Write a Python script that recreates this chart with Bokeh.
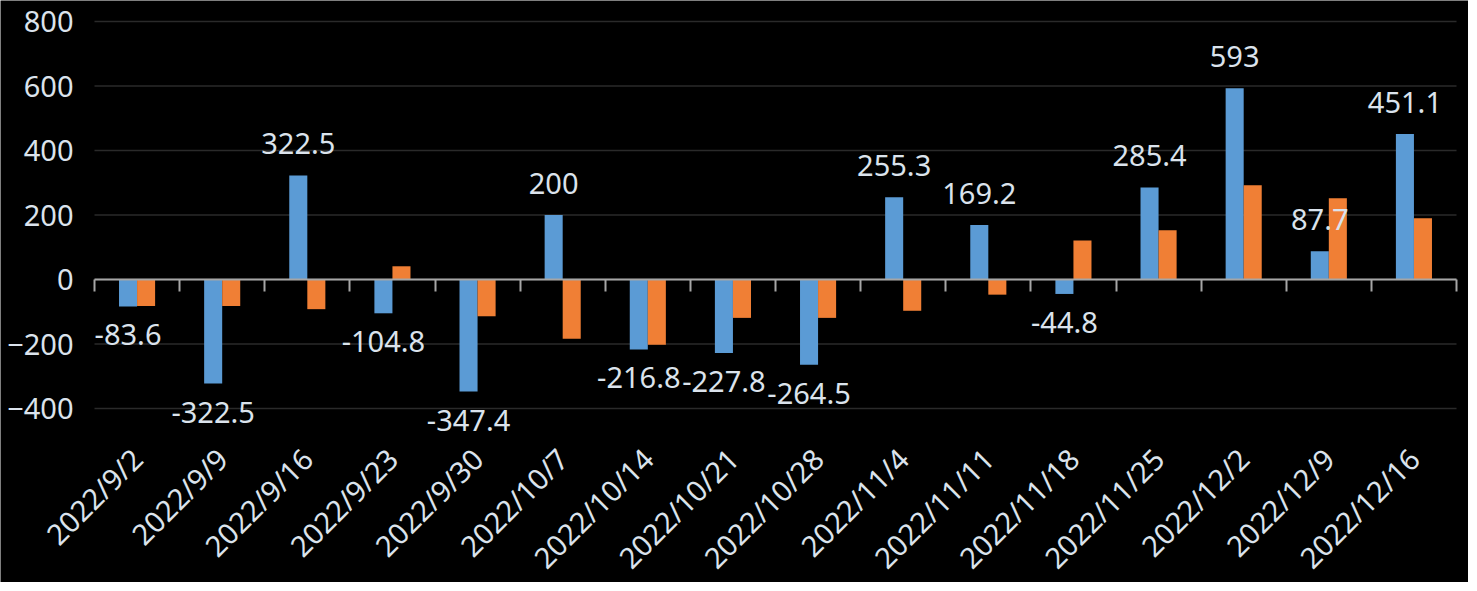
import math
from bokeh.plotting import figure
from bokeh.models import ColumnDataSource, Range1d, LinearAxis, FixedTicker, LabelSet
from bokeh.transform import dodge
from bokeh.core.properties import value
from bokeh.embed import file_html
from bokeh.resources import INLINE

dates = ["2022/9/2", "2022/9/9", "2022/9/16", "2022/9/23", "2022/9/30", "2022/10/7",
         "2022/10/14", "2022/10/21", "2022/10/28", "2022/11/4", "2022/11/11", "2022/11/18",
         "2022/11/25", "2022/12/2", "2022/12/9", "2022/12/16"]
blue = [-83.6, -322.5, 322.5, -104.8, -347.4, 200, -216.8, -227.8, -264.5,
        255.3, 169.2, -44.8, 285.4, 593, 87.7, 451.1]
orange = [-82, -82, -92, 41, -114, -184, -202, -119, -119,
          -97, -47, 121, 153, 292, 252, 190]
y_ticks = [-400, -200, 0, 200, 400, 600, 800]

FONT = "Noto Sans"
TXT = "#dbe3ec"
FS = "29px"
FS_CAT = "29px"

n = len(dates)
xc = [i + 0.5 for i in range(n)]  # category centres on the x scale

# layout (pixels): value area 1362 x 387, surrounded by room for labels;
# the frame covers the whole figure so that no label is clipped
PLOT_W, PLOT_H = 1362, 387
LEFT, RIGHT, TOP, BOTTOM = 94, 12, 21, 174
ppx = PLOT_W / n
ppu = PLOT_H / (y_ticks[-1] - y_ticks[0])
x_range = Range1d(-LEFT / ppx, n + RIGHT / ppx)
y_range = Range1d(y_ticks[0] - BOTTOM / ppu, y_ticks[-1] + TOP / ppu)

src = ColumnDataSource(dict(x=xc, b=blue, o=orange))
pos = ColumnDataSource(dict(x=[x for x, v in zip(xc, blue) if v >= 0],
                            v=[v for v in blue if v >= 0],
                            t=[f"{v:g}" for v in blue if v >= 0]))
neg = ColumnDataSource(dict(x=[x for x, v in zip(xc, blue) if v < 0],
                            v=[v for v in blue if v < 0],
                            t=[f"{v:g}" for v in blue if v < 0]))
cats = ColumnDataSource(dict(x=xc, y=[y_ticks[0]] * n, t=dates))
grid = ColumnDataSource(dict(y=y_ticks, x0=[0] * len(y_ticks), x1=[n] * len(y_ticks)))

p = figure(x_range=x_range, y_range=y_range,
           frame_width=LEFT + PLOT_W + RIGHT, frame_height=TOP + PLOT_H + BOTTOM,
           min_border=0, output_backend="svg", toolbar_location=None,
           x_axis_location=None, y_axis_location=None,
           background_fill_color="black", border_fill_color="black")
p.outline_line_color = None
p.grid.visible = False

# horizontal gridlines across the value area only
p.segment(x0="x0", x1="x1", y0="y", y1="y", source=grid,
          line_color="#2a2a2a", line_width=1.5)

# value axis (labels only) at the left edge of the value area
yax = LinearAxis(fixed_location=0, ticker=FixedTicker(ticks=y_ticks),
                 axis_line_color=None, major_tick_line_color=None, minor_tick_line_color=None,
                 major_tick_in=0, major_tick_out=0, major_label_standoff=21,
                 major_label_text_font=FONT, major_label_text_font_size=FS,
                 major_label_text_color=TXT)
p.add_layout(yax, "left")

# zero-line axis with ticks at category boundaries
bnd = list(range(n + 1))
zax = LinearAxis(fixed_location=0, bounds=(0, n),
                 ticker=FixedTicker(ticks=bnd),
                 major_label_overrides={b: "" for b in bnd},
                 axis_line_color="#a6a6a6", axis_line_width=2,
                 major_tick_line_color="#a6a6a6", major_tick_line_width=2,
                 major_tick_in=0, major_tick_out=12,
                 minor_tick_line_color=None, major_label_standoff=0)

p.vbar(x=dodge("x", -0.106), top="b", bottom=0, width=0.212,
       source=src, fill_color="#5b9bd5", line_color=None)
p.vbar(x=dodge("x", 0.106), top="o", bottom=0, width=0.212,
       source=src, fill_color="#f07f35", line_color=None)
p.add_layout(zax, "below")

lab_kw = dict(text="t", text_font=value(FONT), text_color=value(TXT), level="overlay")
p.add_layout(LabelSet(x=dodge("x", -0.106), y="v", source=pos, text_align="center",
                      text_baseline="alphabetic", y_offset=21,
                      text_font_size=value(FS), **lab_kw))
p.add_layout(LabelSet(x=dodge("x", -0.106), y="v", source=neg, text_align="center",
                      text_baseline="alphabetic", y_offset=-39,
                      text_font_size=value(FS), **lab_kw))
# category labels in Excel's "low" position, rotated 45 degrees
p.add_layout(LabelSet(x="x", y="y", source=cats, text_align="right", text_baseline="top",
                      angle=math.pi / 4, x_offset=-14, y_offset=-31,
                      text_font_size=value(FS_CAT), **lab_kw))

open("out.html", "w").write(file_html(p, INLINE))
